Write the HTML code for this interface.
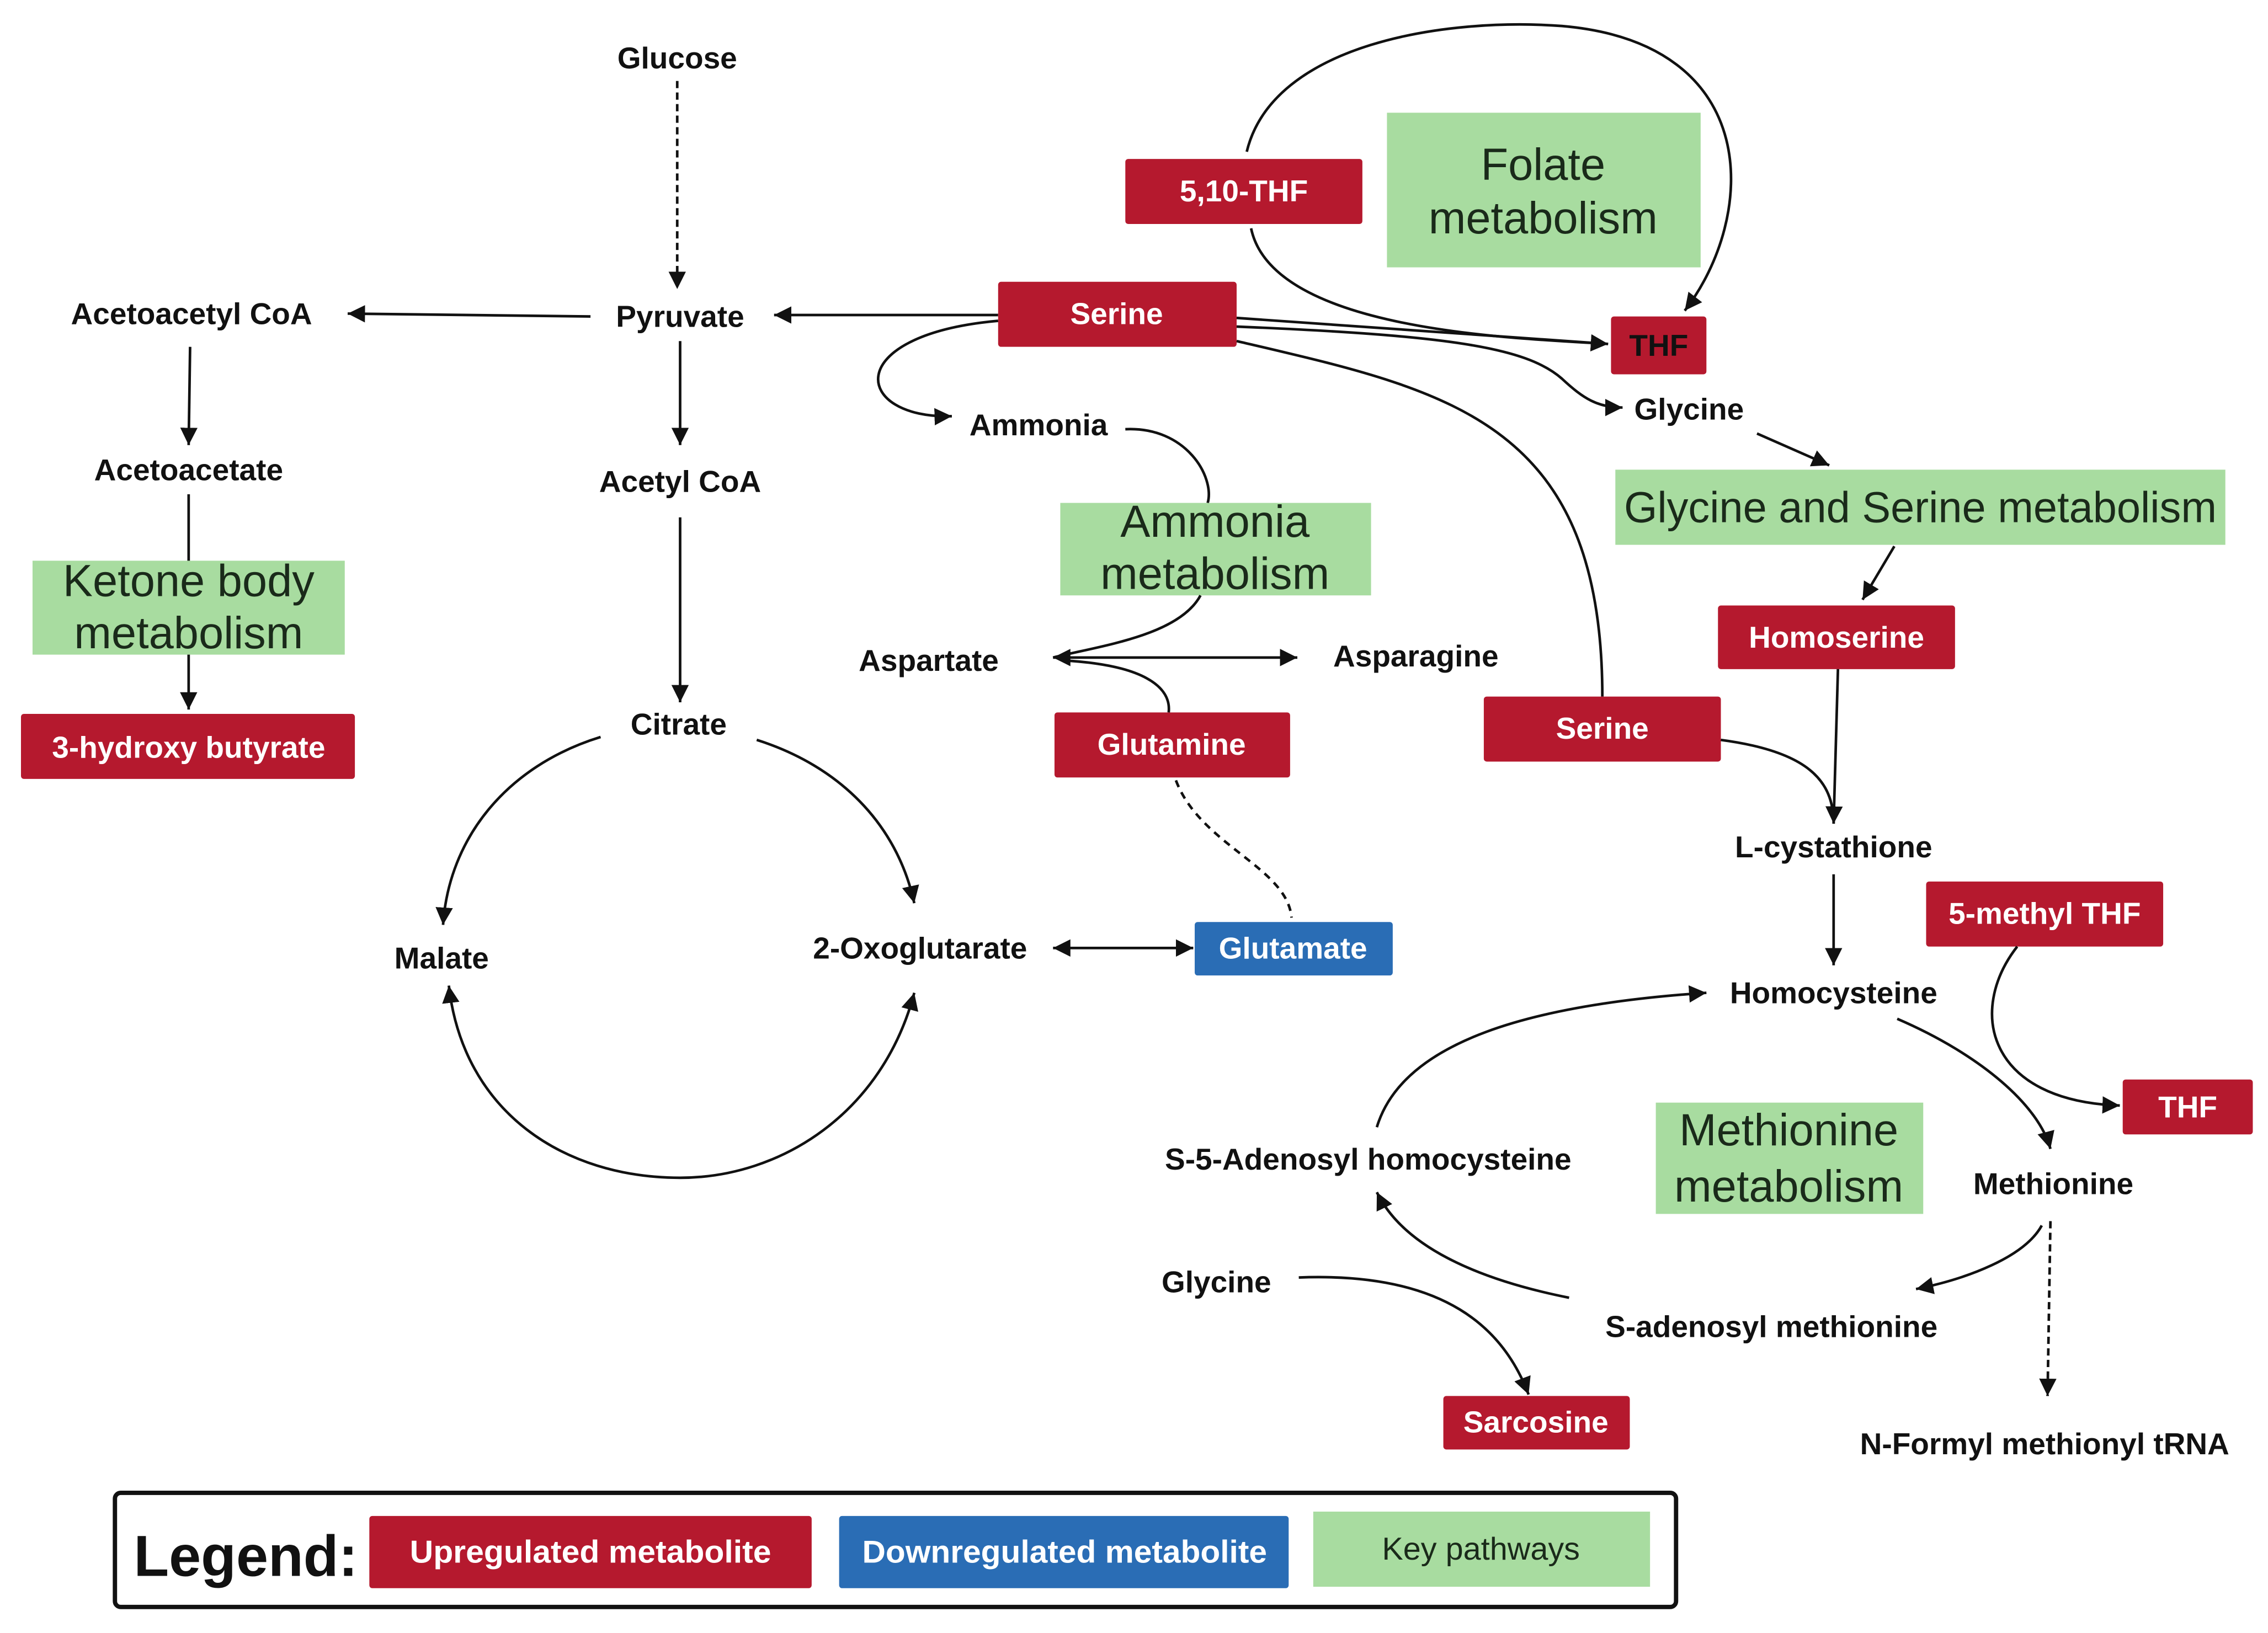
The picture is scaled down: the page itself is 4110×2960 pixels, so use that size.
<!DOCTYPE html>
<html><head><meta charset="utf-8"><style>
html,body{margin:0;padding:0;background:#fff;}
svg{display:block;}
text{font-family:"Liberation Sans",Arial,sans-serif;}
.l{font-size:21px;font-weight:bold;fill:#111;text-anchor:middle;dominant-baseline:central;}
.w{font-size:21px;font-weight:bold;fill:#fff;text-anchor:middle;dominant-baseline:central;}
.g{font-size:31px;fill:#1a2a1a;text-anchor:middle;dominant-baseline:central;}
.r{fill:#b5192e;}
.b{fill:#2a6db5;}
.gr{fill:#a8dca0;}
.c{fill:none;stroke:#111;stroke-width:1.8;}
</style></head><body>
<svg width="4110" height="2960" viewBox="0 0 1568 1130" xmlns="http://www.w3.org/2000/svg">
<defs>
<marker id="a" markerUnits="userSpaceOnUse" markerWidth="14" markerHeight="14" refX="12" refY="6" orient="auto"><path d="M0,0 L12,6 L0,12 Z" fill="#111"/></marker>
<marker id="s" markerUnits="userSpaceOnUse" markerWidth="14" markerHeight="14" refX="0" refY="6" orient="auto"><path d="M12,0 L0,6 L12,12 Z" fill="#111"/></marker>
</defs>
<rect width="1568" height="1130" fill="#fff"/>

<text class="l" x="468" y="40">Glucose</text>
<line class="c" x1="468" y1="56" x2="468" y2="200" stroke-dasharray="5,3" stroke-width="2.5" marker-end="url(#a)"/>
<text class="l" x="470" y="219">Pyruvate</text>
<line class="c" x1="408" y1="219" x2="240" y2="217" marker-end="url(#a)"/>
<text class="l" x="132" y="217">Acetoacetyl CoA</text>
<line class="c" x1="690" y1="218" x2="535" y2="218" stroke-width="2.5" marker-end="url(#a)"/>
<line class="c" x1="470" y1="236" x2="470" y2="308" stroke-width="2.5" marker-end="url(#a)"/>
<text class="l" x="470" y="333">Acetyl CoA</text>
<line class="c" x1="470" y1="358" x2="470" y2="486" stroke-width="2.5" marker-end="url(#a)"/>
<text class="l" x="469" y="501">Citrate</text>

<line class="c" x1="131" y1="240" x2="130" y2="308" marker-end="url(#a)"/>
<text class="l" x="130" y="325">Acetoacetate</text>
<line class="c" x1="130" y1="342" x2="130" y2="390"/>
<rect class="gr" x="22" y="388" width="216" height="65"/>
<text class="g" x="130" y="402">Ketone body</text>
<text class="g" x="130" y="438">metabolism</text>
<line class="c" x1="130" y1="453" x2="130" y2="491" marker-end="url(#a)"/>
<rect class="r" x="14" y="494" width="231" height="45" rx="2"/>
<text class="w" x="130" y="517">3-hydroxy butyrate</text>

<path class="c" stroke-width="2.8" d="M523,512 C580,530 620,570 632,625" marker-end="url(#a)"/>
<path class="c" stroke-width="2.8" d="M415,510 C350,530 310,580 306,640" marker-end="url(#a)"/>
<path class="c" stroke-width="2.8" d="M632,687 C610,770 540,815 470,815 C390,815 320,770 310,682" marker-start="url(#s)" marker-end="url(#a)"/>
<text class="l" x="305" y="663">Malate</text>
<text class="l" x="636" y="656">2-Oxoglutarate</text>
<line class="c" x1="728" y1="656" x2="825" y2="656" marker-start="url(#s)" marker-end="url(#a)"/>
<rect class="b" x="826" y="638" width="137" height="37" rx="2"/>
<text class="w" x="894" y="656">Glutamate</text>

<rect class="r" x="690" y="195" width="165" height="45" rx="2"/>
<text class="w" x="772" y="217">Serine</text>
<rect class="r" x="778" y="110" width="164" height="45" rx="2"/>
<text class="w" x="860" y="132">5,10-THF</text>
<rect class="gr" x="959" y="78" width="217" height="107"/>
<text class="g" x="1067" y="114">Folate</text>
<text class="g" x="1067" y="151">metabolism</text>
<path class="c" d="M865,158 C880,230 1050,234 1112,238" marker-end="url(#a)"/>
<path class="c" d="M862,105 C880,30 1000,12 1080,18 C1220,30 1215,150 1165,215" marker-end="url(#a)"/>
<line class="c" x1="855" y1="220" x2="1112" y2="238"/>
<rect class="r" x="1114" y="219" width="66" height="40" rx="2"/>
<text class="w" x="1147" y="239" style="fill:#111">THF</text>
<path class="c" d="M855,226 C1000,232 1055,240 1080,262 C1095,276 1105,282 1122,282" marker-end="url(#a)"/>
<text class="l" x="1168" y="283">Glycine</text>
<path class="c" d="M855,236 C1000,270 1108,290 1108,482"/>
<path class="c" d="M690,222 C580,232 590,290 658,288" marker-end="url(#a)"/>
<text class="l" x="718" y="294">Ammonia</text>
<path class="c" d="M778,297 C820,295 840,330 835,348"/>
<rect class="gr" x="733" y="348" width="215" height="64"/>
<text class="g" x="840" y="361">Ammonia</text>
<text class="g" x="840" y="397">metabolism</text>
<path class="c" d="M830,412 C815,440 760,447 728,455"/>
<text class="l" x="642" y="457">Aspartate</text>
<line class="c" x1="728" y1="455" x2="897" y2="455" marker-start="url(#s)" marker-end="url(#a)"/>
<text class="l" x="979" y="454">Asparagine</text>
<path class="c" d="M735,457 C790,460 810,475 808,493"/>
<rect class="r" x="729" y="493" width="163" height="45" rx="2"/>
<text class="w" x="810" y="515">Glutamine</text>
<path class="c" d="M813,540 C830,585 890,600 893,635" stroke-dasharray="5,4"/>

<line class="c" x1="1215" y1="300" x2="1265" y2="322" marker-end="url(#a)"/>
<rect class="gr" x="1117" y="325" width="422" height="52"/>
<text class="g" x="1328" y="351" style="font-size:30px" textLength="410" lengthAdjust="spacingAndGlyphs">Glycine and Serine metabolism</text>
<line class="c" x1="1310" y1="378" x2="1288" y2="415" marker-end="url(#a)"/>
<rect class="r" x="1188" y="419" width="164" height="44" rx="2"/>
<text class="w" x="1270" y="441">Homoserine</text>
<line class="c" x1="1271" y1="463" x2="1268" y2="570" marker-end="url(#a)"/>
<rect class="r" x="1026" y="482" width="164" height="45" rx="2"/>
<text class="w" x="1108" y="504">Serine</text>
<path class="c" d="M1190,512 C1250,520 1268,540 1268,570"/>
<text class="l" x="1268" y="586">L-cystathione</text>
<line class="c" x1="1268" y1="605" x2="1268" y2="668" marker-end="url(#a)"/>
<text class="l" x="1268" y="687">Homocysteine</text>
<rect class="r" x="1332" y="610" width="164" height="45" rx="2"/>
<text class="w" x="1414" y="632">5-methyl THF</text>
<path class="c" d="M1395,655 C1360,700 1375,762 1466,765" marker-end="url(#a)"/>
<rect class="r" x="1468" y="747" width="90" height="38" rx="2"/>
<text class="w" x="1513" y="766">THF</text>
<path class="c" d="M1312,705 C1370,730 1410,765 1418,795" marker-end="url(#a)"/>
<text class="l" x="1420" y="819">Methionine</text>
<line class="c" x1="1418" y1="845" x2="1416" y2="966" stroke-dasharray="5,3" marker-end="url(#a)"/>
<text class="l" x="1414" y="999">N-Formyl methionyl tRNA</text>
<path class="c" d="M1412,848 C1400,870 1360,885 1325,892" marker-end="url(#a)"/>
<text class="l" x="1225" y="918">S-adenosyl methionine</text>
<path class="c" d="M1085,898 C1020,885 970,862 952,825" marker-end="url(#a)"/>
<text class="l" x="946" y="802">S-5-Adenosyl homocysteine</text>
<path class="c" d="M952,780 C970,720 1060,695 1180,687" marker-end="url(#a)"/>
<rect class="gr" x="1145" y="763" width="185" height="77"/>
<text class="g" x="1237" y="782">Methionine</text>
<text class="g" x="1237" y="821">metabolism</text>
<text class="l" x="841" y="887">Glycine</text>
<path class="c" d="M898,884 C1000,880 1040,920 1057,965" marker-end="url(#a)"/>
<rect class="r" x="998" y="966" width="129" height="37" rx="2"/>
<text class="w" x="1062" y="984">Sarcosine</text>

<rect x="79" y="1033" width="1080" height="79" rx="4" fill="#fff" stroke="#111" stroke-width="3"/>
<text x="92" y="1077" textLength="155" lengthAdjust="spacingAndGlyphs" style="font-size:40px;font-weight:bold;fill:#111;dominant-baseline:central;">Legend:</text>
<rect class="r" x="255" y="1049" width="306" height="50" rx="2"/>
<text class="w" x="408" y="1074" style="font-size:22px" textLength="250" lengthAdjust="spacingAndGlyphs">Upregulated metabolite</text>
<rect class="b" x="580" y="1049" width="311" height="50" rx="2"/>
<text class="w" x="736" y="1074" style="font-size:22px" textLength="280" lengthAdjust="spacingAndGlyphs">Downregulated metabolite</text>
<rect class="gr" x="908" y="1046" width="233" height="52"/>
<text x="1024" y="1072" style="font-size:22px;fill:#1a2a1a;text-anchor:middle;dominant-baseline:central;">Key pathways</text>
</svg>
</body></html>
